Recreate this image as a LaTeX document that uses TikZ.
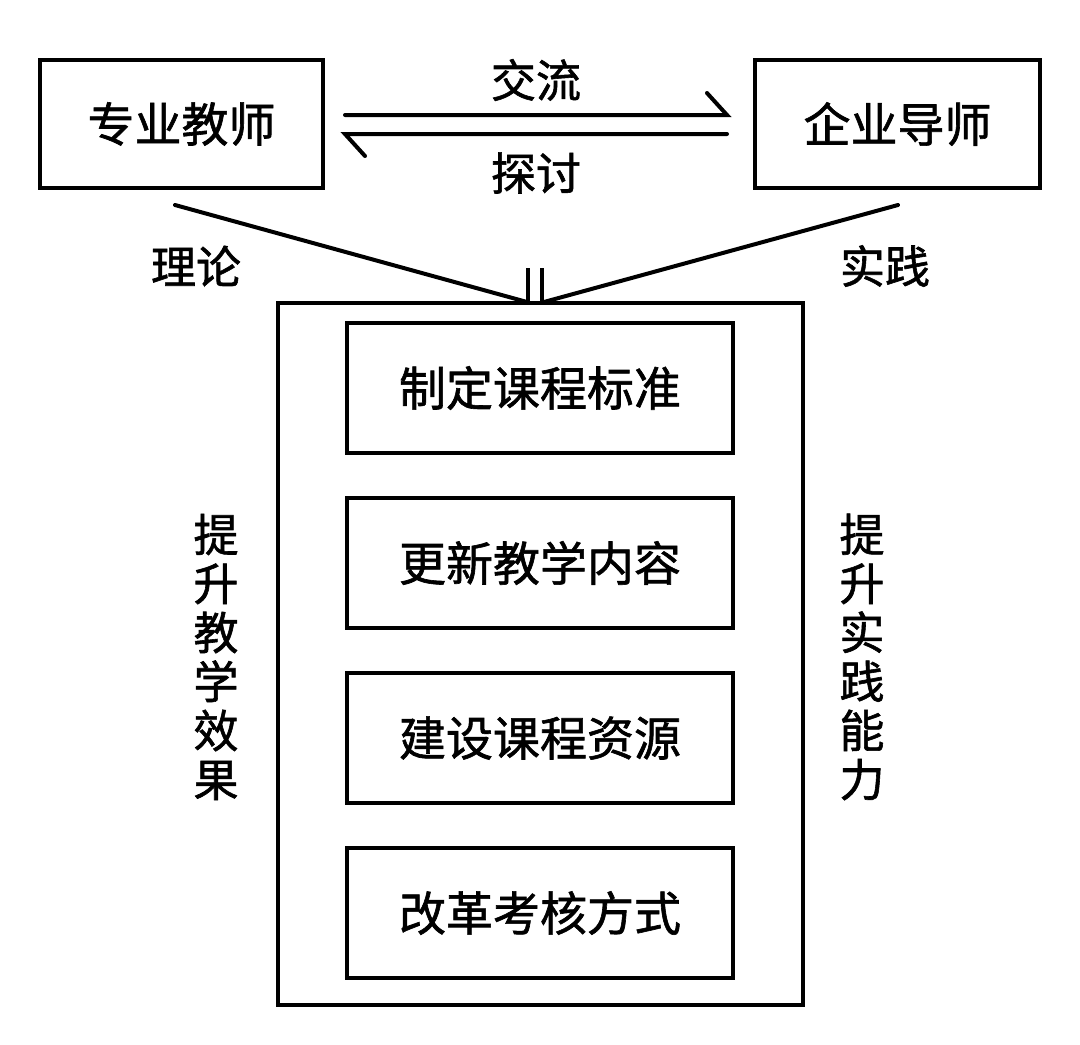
\documentclass[tikz,border=0pt]{standalone}
\usepackage{fontspec}
\setmainfont{Noto Sans CJK SC}
\newfontfamily\cjk[FakeBold=1.3]{Noto Sans CJK SC}
\begin{document}
\begin{tikzpicture}[x=1pt,y=-1pt,
  box/.style={draw,line width=4pt,inner sep=0pt,font=\cjk\fontsize{47}{50}\selectfont},
  lab/.style={inner sep=0pt,font=\cjk\fontsize{45}{48}\selectfont},
  vlab/.style={inner sep=0pt,align=center,font=\cjk\fontsize{45}{49}\selectfont},
  ln/.style={line width=4pt,line cap=round}]
\useasboundingbox (0,0) rectangle (1080,1045);
\fill[white] (0,0) rectangle (1080,1045);
% top boxes
\node[box,minimum width=283pt,minimum height=128pt] (teacher) at (181.5,124) {专业教师};
\node[box,minimum width=285pt,minimum height=128pt] (mentor) at (897.5,124) {企业导师};
% big box
\node[draw,line width=4pt,minimum width=525pt,minimum height=702pt,inner sep=0pt] (big) at (540.5,654) {};
% inner boxes
\node[box,minimum width=386pt,minimum height=130pt] (b1) at (540,388) {制定课程标准};
\node[box,minimum width=386pt,minimum height=130pt] (b2) at (540,563) {更新教学内容};
\node[box,minimum width=386pt,minimum height=130pt] (b3) at (540,738) {建设课程资源};
\node[box,minimum width=386pt,minimum height=130pt] (b4) at (540,913) {改革考核方式};
% exchange arrows
\coordinate (a1) at (345,115);
\coordinate (a2) at (727,115);
\coordinate (a3) at (707,93);
\coordinate (c1) at (727,134);
\coordinate (c2) at (345,134);
\coordinate (c3) at (365,156);
\draw[ln] (a1) -- (a2) -- (a3);
\draw[ln] (c1) -- (c2) -- (c3);
\node[lab] (jl) at (536,80) {交流};
\node[lab] (tt) at (536,173) {探讨};
% converging lines
\coordinate (tL) at (175,205);
\coordinate (tR) at (898,205);
\coordinate (j1) at (527,302);
\coordinate (j2) at (544,302);
\draw[ln] (tL) -- (j1);
\draw[ln] (tR) -- (j2);
\coordinate (v1) at (528,268);
\coordinate (v2) at (542,268);
\draw[line width=3.5pt] (v1) -- (528,303);
\draw[line width=3.5pt] (v2) -- (542,303);
\node[lab] (ll) at (196,266) {理论};
\node[lab] (sj) at (885,266) {实践};
% vertical labels
\node[vlab] (lv) at (216,657) {提\\升\\教\\学\\效\\果};
\node[vlab] (rv) at (862,657) {提\\升\\实\\践\\能\\力};
\end{tikzpicture}
\end{document}
